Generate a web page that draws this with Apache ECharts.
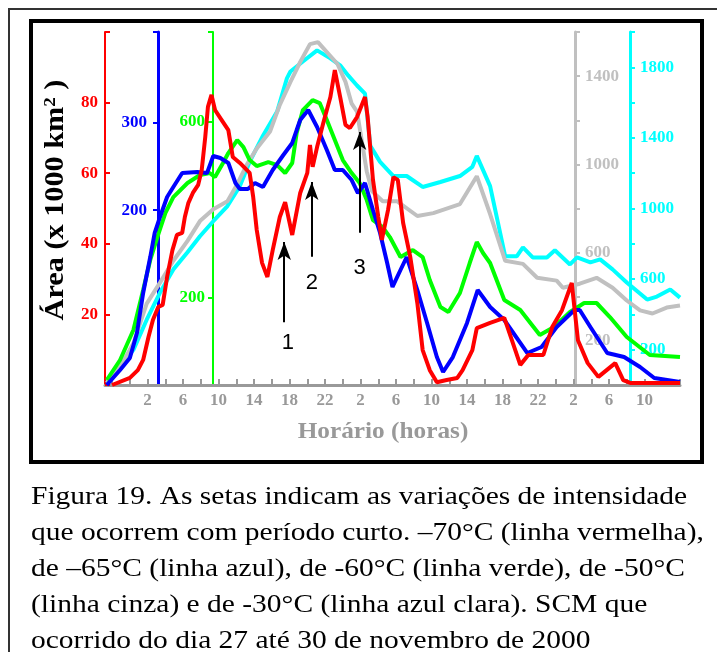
<!DOCTYPE html>
<html>
<head>
<meta charset="utf-8">
<script src="https://cdn.jsdelivr.net/npm/echarts@6.0.0/dist/echarts.min.js"></script>
<style>
html,body{margin:0;padding:0;background:#fff;}
#chart{width:717px;height:652px;}
</style>
</head>
<body>
<div id="chart"></div>
<script>
// horas contadas a partir das 0h do dia 27
var redData = [[-2.0,0],[0.0,2.0],[0.9,4.2],[1.5,7.1],[2.1,13.6],[2.6,18.4],[3.2,22.1],[3.7,22.7],[4.2,30.6],[4.8,38.2],[5.3,42.5],[5.9,43.1],[6.2,47.6],[6.6,51.6],[7.1,54.4],[7.7,56.7],[8.1,60.9],[8.5,70.3],[8.8,78.8],[9.2,82.2],[9.6,77.9],[10.2,75.6],[11.1,72.2],[11.6,64.6],[12.4,62.9],[13.5,60.1],[13.9,53.3],[14.3,43.9],[14.9,34.6],[15.5,30.6],[16.1,38.2],[16.9,47.6],[17.5,51.8],[18.3,42.5],[19.2,54.4],[20.0,60.1],[20.3,68.0],[20.6,61.8],[21.1,67.4],[21.8,74.2],[22.6,81.6],[23.1,89.2],[23.7,81.6],[24.3,73.7],[24.8,72.8],[25.6,75.9],[26.5,81.6],[26.8,75.9],[27.4,58.1],[28.0,47.6],[28.4,41.1],[29.1,49.6],[29.7,58.9],[30.2,58.1],[30.8,45.9],[31.6,36.3],[32.4,23.2],[33.0,9.9],[33.8,4.2],[34.6,0.8],[35.7,1.4],[36.9,2.0],[37.5,4.2],[38.6,9.9],[39.1,16.1],[40.6,17.6],[42.2,19.0],[44.0,5.7],[44.9,8.5],[46.6,8.5],[47.6,16.4],[48.7,21.2],[49.8,28.9],[50.5,12.7],[51.6,6.2],[52.8,2.3],[54.7,6.2],[55.6,1.4],[56.4,0.6],[62.0,0.6]];
var blueData = [[-2.6,0],[-1.1,17.2],[0.0,30.9],[0.8,59.5],[1.5,105.3],[2.3,146.5],[2.8,174.0],[3.4,192.3],[4.2,215.2],[4.9,226.6],[5.9,242.6],[7.6,243.8],[8.7,242.6],[9.4,262.1],[10.2,259.8],[11.1,254.1],[11.9,231.2],[12.4,224.3],[13.3,224.3],[14.1,231.2],[15.0,226.6],[16.1,246.1],[17.3,263.2],[18.3,277.0],[18.8,291.8],[19.2,303.3],[20.1,314.7],[21.1,295.3],[22.2,268.9],[23.1,246.1],[24.0,246.1],[25.0,234.6],[25.7,219.7],[26.5,231.2],[27.4,200.3],[28.2,174.0],[29.0,139.6],[29.6,112.2],[30.5,131.6],[31.2,146.5],[32.4,108.7],[33.5,71.0],[34.6,32.0],[35.3,14.9],[36.4,32.0],[38.0,71.0],[39.2,108.7],[40.6,89.3],[42.2,74.4],[44.8,36.6],[46.4,43.5],[48.1,66.4],[50.1,85.8],[50.7,85.8],[51.9,66.4],[53.8,36.6],[55.7,32.0],[57.5,20.6],[59.1,8.0],[62.0,3.4]];
var greenData = [[-2.6,11.4],[-1.1,57],[0.4,125.4],[1.5,216.6],[2.3,285],[3.1,337.4],[4.0,392.2],[4.9,428.6],[6.5,460.6],[7.9,478.8],[9.0,483.4],[9.6,474.2],[10.5,506.2],[11.1,529],[12.1,558.6],[12.8,542.6],[13.5,513],[14.3,499.3],[15.6,508.4],[16.6,501.6],[17.5,483.4],[18.3,506.2],[18.8,574.6],[19.5,627],[20.6,649.8],[21.4,643],[22.2,604.2],[23.1,558.6],[24.0,513],[25.0,483.4],[25.9,460.6],[26.7,421.8],[27.4,376.2],[28.5,360.2],[29.3,337.4],[30.5,291.8],[31.9,307.8],[33.0,291.8],[33.8,239.4],[35.0,177.8],[35.9,166.4],[37.2,209.8],[38.3,278.2],[39.1,326],[39.8,301],[40.6,278.2],[42.2,193.8],[44.0,171],[46.2,114],[47.8,132.2],[49.6,166.4],[51.2,187],[52.6,187],[54.1,155],[56.0,109.4],[58.6,68.4],[62.0,63.8]];
var grayData = [[-2.6,9],[-1.1,81],[0.4,189],[1.9,369],[3.4,464],[4.9,563],[6.5,653],[7.9,743],[9.4,797],[11.0,833],[12.1,910],[13.2,1000],[14.3,1072],[15.8,1149],[16.9,1270],[18.1,1374],[19.2,1464],[20.3,1545],[21.2,1554],[22.2,1509],[23.4,1455],[24.3,1374],[25.0,1275],[25.6,1239],[26.7,968],[27.3,878],[28.5,833],[30.1,833],[32.4,766],[34.2,779],[37.2,820],[39.1,946],[40.6,775],[42.3,563],[44.3,549],[45.9,486],[48.1,473],[48.8,441],[50.7,459],[52.6,486],[54.4,441],[56.0,383],[57.5,338],[58.9,324],[60.5,351],[62.0,360]];
var cyanData = [[-2.6,11],[-1.1,102],[0.4,199],[1.9,370],[3.4,524],[4.9,655],[6.5,752],[7.9,843],[9.4,928],[11.0,1014],[12.4,1127],[13.5,1264],[15.0,1412],[16.6,1549],[17.7,1737],[18.1,1776],[19.5,1833],[21.1,1896],[22.6,1851],[23.7,1811],[24.6,1754],[25.6,1697],[26.5,1651],[27.1,1355],[28.2,1264],[29.7,1184],[31.2,1184],[33.0,1122],[35.0,1150],[37.2,1184],[38.6,1236],[39.1,1298],[40.6,1127],[42.3,729],[43.6,729],[44.3,780],[45.4,723],[47.0,723],[47.9,763],[49.6,683],[50.4,723],[51.9,695],[53.0,712],[54.4,655],[56.0,581],[58.3,484],[59.4,501],[60.9,541],[62.0,495]];

var xLabelHours = [2,6,10,14,18,22,26,30,34,38,42,46,50,54,58];
var xTickHours = [-2,0,2,4,6,8,10,12,14,16,18,20,22,24,26,28,30,32,34,36,38,40,42,44,46,48,50,52,54,56,58,60,62];
var redLabels = [20,40,60,80];
var blueLabels = [200,300];
var greenLabels = [200,600];
var grayLabels = [200,600,1000,1400];
var cyanLabels = [200,600,1000,1400,1800];

// setas 1, 2, 3 (hora, base, ponta, posicao do numero) na escala vermelha
var arrows = [
	{name:'1', hour:17.4, from:17.8, to:40.5, labelHour:17.8, labelY:11.9},
	{name:'2', hour:20.5, from:36.3, to:57.5, labelHour:20.5, labelY:28.9},
	{name:'3', hour:25.9, from:43.1, to:71.7, labelHour:25.9, labelY:33.1}
];

var captionLines = [
	'Figura 19. As setas indicam as variações de intensidade',
	'que ocorrem com período curto. –70°C (linha vermelha),',
	'de –65°C (linha azul), de -60°C (linha verde), de -50°C',
	'(linha cinza) e de -30°C (linha azul clara). SCM que',
	'ocorrido do dia 27 até 30 de novembro de 2000'
];

var serif = '"Liberation Serif", "Times New Roman", serif';

function yAx(color, pos, offset, max, ticks, labels, margin, inside, width){
	return {
		type:'value', position:pos, offset:offset, min:0, max:max,
		axisLine:{show:true, onZero:false, lineStyle:{color:color, width:width}},
		axisTick:{show:true, inside:inside, length:5, customValues:ticks, lineStyle:{color:color, width:2}},
		axisLabel:{customValues:labels, margin:margin, color:color, fontFamily:serif, fontWeight:'bold', fontSize:17,
			formatter:function(v){ return String(v); }},
		splitLine:{show:false}
	};
}

function line(data, axis, color){
	return {type:'line', yAxisIndex:axis, data:data, symbol:'none', silent:true,
		lineStyle:{color:color, width:4}, itemStyle:{color:color}};
}

var chart = echarts.init(document.getElementById('chart'));

var redSeries = line(redData, 0, '#ff0000');
redSeries.markLine = {
	silent:true, animation:false,
	lineStyle:{color:'#000', width:2, type:'solid'},
	label:{show:false},
	data: arrows.map(function(a){
		return [{coord:[a.hour, a.from], symbol:'none'}, {coord:[a.hour, a.to], symbol:'arrow', symbolSize:[10,18]}];
	})
};
redSeries.markPoint = {
	silent:true, animation:false, symbol:'circle', symbolSize:1,
	itemStyle:{color:'rgba(0,0,0,0)'},
	label:{show:true, position:'inside', formatter:'{b}', color:'#000', fontSize:22, fontFamily:'"Liberation Sans", Arial, sans-serif'},
	data: arrows.map(function(a){ return {name:a.name, coord:[a.labelHour, a.labelY]}; })
};

chart.setOption({
	backgroundColor:'#fff',
	animation:false,
	grid:{left:105, right:37, top:32, bottom:267},
	xAxis:{
		type:'value', min:-2.8, max:62,
		axisLine:{show:true, onZero:false, lineStyle:{color:'#999', width:3}},
		axisTick:{show:true, inside:true, length:6, customValues:xTickHours, lineStyle:{color:'#999', width:2}},
		axisLabel:{customValues:xLabelHours, margin:7, color:'#999', fontFamily:serif, fontWeight:'bold', fontSize:17,
			formatter:function(v){ return String(v % 24); }},
		splitLine:{show:false}
	},
	yAxis:[
		yAx('#ff0000','left',0,100,[0,20,40,60,80,100],redLabels,7,true,2),
		yAx('#0000ff','left',-53,404,[200,300,404],blueLabels,11,false,3),
		yAx('#00ff00','left',-108,805,[200,600,805],greenLabels,8,false,2),
		yAx('#c0c0c0','right',-105,1600,[200,400,600,800,1000,1200,1400,1600],grayLabels,10,false,3),
		yAx('#00ffff','right',-50,2000,[200,400,600,800,1000,1200,1400,1600,1800,2000],cyanLabels,10,false,3)
	],
	series:[
		line(cyanData, 4, '#00ffff'),
		line(grayData, 3, '#c0c0c0'),
		line(greenData, 2, '#00ff00'),
		line(blueData, 1, '#0000ff'),
		redSeries
	],
	graphic:[
		{type:'rect', shape:{x:9, y:9, width:720, height:660}, style:{fill:null, stroke:'#333', lineWidth:2}, silent:true},
		{type:'rect', shape:{x:31, y:21, width:671, height:441}, style:{fill:null, stroke:'#000', lineWidth:4}, silent:true},
		{type:'text', x:56, y:200, rotation:Math.PI/2, scaleX:1.12, silent:true,
			style:{text:'{a|Área (x 1000 km}{s|2}{a| )}', align:'center', verticalAlign:'middle',
				rich:{a:{fontFamily:serif, fontWeight:'bold', fontSize:27, fill:'#000'},
					s:{fontFamily:serif, fontWeight:'bold', fontSize:17, fill:'#000', verticalAlign:'top'}}}},
		{type:'text', x:383, y:432, scaleX:1.1, silent:true,
			style:{text:'Horário (horas)', align:'center', verticalAlign:'middle', fontFamily:serif, fontWeight:'bold', fontSize:23, fill:'#999'}},
		{type:'text', x:31, y:479, scaleX:1.18, silent:true,
			style:{text:captionLines.join('\n'), fontFamily:serif, fontSize:25, lineHeight:36, fill:'#000', verticalAlign:'top'}}
	]
});
</script>
</body>
</html>
